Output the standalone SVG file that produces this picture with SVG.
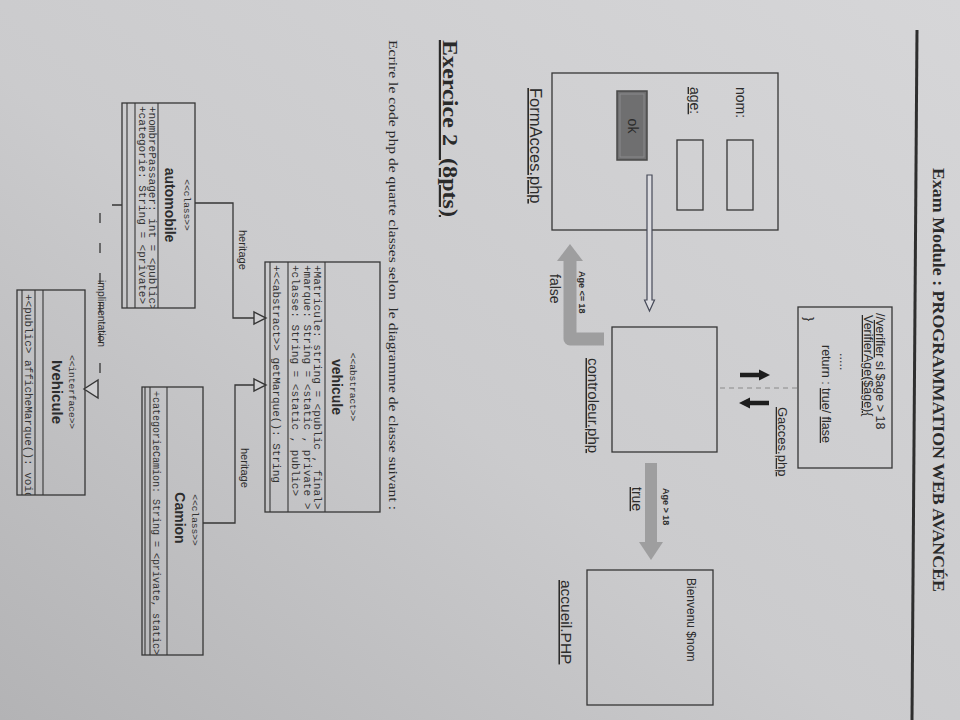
<svg xmlns="http://www.w3.org/2000/svg" width="960" height="720" viewBox="0 0 960 720">
<defs>
<linearGradient id="bg" x1="1" y1="0" x2="0" y2="1">
<stop offset="0" stop-color="#d6d6d8"/>
<stop offset="0.55" stop-color="#cbcbcd"/>
<stop offset="1" stop-color="#b3b3b5"/>
</linearGradient>
<clipPath id="cVeh"><rect x="262" y="580" width="250" height="115"/></clipPath>
<clipPath id="cAuto"><rect x="103" y="765" width="205" height="73"/></clipPath>
<clipPath id="cCam"><rect x="387" y="757" width="268" height="61"/></clipPath>
<clipPath id="cIv"><rect x="290" y="875" width="205" height="68"/></clipPath>
<style>
.box{fill:none;stroke:#363636;stroke-width:1.3}
.sep{stroke:#363636;stroke-width:1.1}
.sans{font-family:"Liberation Sans",Arial,sans-serif;fill:#2c2c2c}
.ser{font-family:"Liberation Serif","Times New Roman",serif;fill:#2a2a2a}
.mono{font-family:"Liberation Mono","Courier New",monospace;fill:#333}
.ul{text-decoration:underline}
.conn{fill:none;stroke:#363636;stroke-width:1.3}
.tri{fill:#cfcfd1;stroke:#363636;stroke-width:1.4}
.gray{fill:none;stroke:#9e9e9f}
.grayh{fill:#9e9e9f}
</style>
</defs>
<rect x="0" y="0" width="960" height="720" fill="url(#bg)"/>
<g transform="translate(960,0) rotate(90)">
  <g id="header">
    <text class="ser" x="168" y="27" font-size="17" font-weight="bold" textLength="424" lengthAdjust="spacingAndGlyphs">Exam Module : PROGRAMMATION WEB AVANCÉE</text>
    <line x1="30" y1="43" x2="720" y2="48" stroke="#2e2e2e" stroke-width="3"/>
  </g>
  <g id="exercise">
    <text class="ser ul" x="40" y="517" font-size="22" font-weight="bold" textLength="177" lengthAdjust="spacingAndGlyphs" xml:space="preserve">Exercice 2  (8pts)</text>
    <text class="ser" x="40" y="571" font-size="13.5" textLength="470" lengthAdjust="spacingAndGlyphs" xml:space="preserve">Ecrire le code php de quarte classes selon  le diagramme de classe suivant :</text>
  </g>
  <g id="node-gacces">
    <rect class="box" x="307" y="68" width="161" height="94"/>
    <text class="sans" x="313" y="84" font-size="12.5">//<tspan class="ul">verifier</tspan> si $age &gt; 18</text>
    <text class="sans ul" x="315" y="96" font-size="12.5">VerifierAge($age){</text>
    <text class="sans" x="353" y="120" font-size="12.5">.....</text>
    <text class="sans" x="345" y="138" font-size="12.5">return : <tspan class="ul">true</tspan>/ <tspan class="ul">flase</tspan></text>
    <text class="sans" x="317" y="155" font-size="12.5">}</text>
    <text class="sans ul" x="407" y="182" font-size="13">Gacces.php</text>
  </g>
  <g id="node-form">
    <rect class="box" x="73" y="182" width="157" height="226"/>
    <text class="sans" x="87" y="224" font-size="14">nom:</text>
    <text class="sans ul" x="87" y="270" font-size="14">age:</text>
    <rect class="box" x="140" y="207" width="70" height="26"/>
    <rect class="box" x="140" y="257" width="70" height="26"/>
    <rect x="91" y="313" width="69" height="30" fill="#6f6f70" stroke="#484848" stroke-width="1.5"/>
    <rect x="94" y="316" width="63" height="24" fill="none" stroke="#8a8a8b" stroke-width="1"/>
    <text class="sans" x="126" y="332" font-size="14" text-anchor="middle" fill="#2a2a2a">ok</text>
    <text class="sans ul" x="88" y="430" font-size="16.5">FormAcces.php</text>
  </g>
  <g id="node-controleur">
    <rect class="box" x="327" y="243" width="125" height="105"/>
    <text class="sans ul" x="358" y="372" font-size="15">controleur.php</text>
  </g>
  <g id="node-accueil">
    <rect class="box" x="570" y="247" width="135" height="126"/>
    <text class="sans" x="578" y="273" font-size="12">Bienvenu $nom</text>
    <text class="sans ul" x="580" y="399" font-size="15.5">accueil.PHP</text>
  </g>
  <g id="class-vehicule">
    <rect class="box" x="262" y="580" width="250" height="115"/>
    <line class="sep" x1="262" y1="635" x2="512" y2="635"/>
    <line class="sep" x1="262" y1="672" x2="512" y2="672"/>
    <line class="sep" x1="262" y1="690" x2="512" y2="690"/>
    <text class="mono" x="387" y="610" font-size="9.5" text-anchor="middle">&lt;&lt;abstract&gt;&gt;</text>
    <text class="sans" x="387" y="628" font-size="14" font-weight="bold" text-anchor="middle">vehicule</text>
    <g clip-path="url(#cVeh)">
      <text class="mono" x="265" y="646" font-size="11">+Matricule: string = &lt;public , final&gt;</text>
      <text class="mono" x="265" y="656" font-size="11">+marque: String = &lt;static , private &gt;</text>
      <text class="mono" x="265" y="668" font-size="11">+classe: String = &lt;static , public&gt;</text>
      <text class="mono" x="265" y="687" font-size="11">+&lt;&lt;abstract&gt;&gt; getMarque(): String</text>
    </g>
  </g>
  <g id="class-automobile">
    <rect class="box" x="103" y="765" width="205" height="73"/>
    <line class="sep" x1="103" y1="802" x2="308" y2="802"/>
    <line class="sep" x1="103" y1="825" x2="308" y2="825"/>
    <line class="sep" x1="103" y1="833" x2="308" y2="833"/>
    <text class="mono" x="205" y="776" font-size="9.5" text-anchor="middle">&lt;&lt;class&gt;&gt;</text>
    <text class="sans" x="205" y="795" font-size="14" font-weight="bold" text-anchor="middle">automobile</text>
    <g clip-path="url(#cAuto)">
      <text class="mono" x="106" y="811" font-size="11">+nombrePassager: int = &lt;public&gt;</text>
      <text class="mono" x="106" y="821" font-size="11">+categorie: String = &lt;private&gt;</text>
    </g>
  </g>
  <g id="class-camion">
    <rect class="box" x="387" y="757" width="268" height="61"/>
    <line class="sep" x1="387" y1="793" x2="655" y2="793"/>
    <line class="sep" x1="387" y1="810" x2="655" y2="810"/>
    <line class="sep" x1="387" y1="815" x2="655" y2="815"/>
    <text class="mono" x="520" y="768" font-size="9.5" text-anchor="middle">&lt;&lt;class&gt;&gt;</text>
    <text class="sans" x="518" y="785" font-size="14" font-weight="bold" text-anchor="middle">Camion</text>
    <g clip-path="url(#cCam)">
      <text class="mono" x="391" y="807" font-size="10">+categorieCamion: String = &lt;private, static&gt;</text>
    </g>
  </g>
  <g id="class-ivehicule">
    <rect class="box" x="290" y="875" width="205" height="68"/>
    <line class="sep" x1="290" y1="917" x2="495" y2="917"/>
    <line class="sep" x1="290" y1="925" x2="495" y2="925"/>
    <line class="sep" x1="290" y1="938" x2="495" y2="938"/>
    <text class="mono" x="392" y="891" font-size="9.5" text-anchor="middle">&lt;&lt;interface&gt;&gt;</text>
    <text class="sans" x="392" y="908" font-size="15" font-weight="bold" text-anchor="middle">Ivehicule</text>
    <g clip-path="url(#cIv)">
      <text class="mono" x="294" y="935" font-size="11">+&lt;public&gt; afficheMarque(): void</text>
    </g>
  </g>
  <g id="connectors">
    <path d="M175,308 L300,308 L300,305.5 L311,310.5 L300,315.5 L300,313 L175,313 Z" fill="#dcdce0" stroke="#464a58" stroke-width="1.2"/>
    <polyline class="gray" points="339,356 339,390 261,390" stroke-width="13" stroke-linejoin="round"/>
    <polygon class="grayh" points="261,377 261,403 244,390"/>
    <text class="sans" x="271" y="381" font-size="9" font-weight="bold">Age &lt;= 18</text>
    <text class="sans" x="274" y="410" font-size="14">false</text>
    <line class="gray" x1="463" y1="309" x2="543" y2="309" stroke-width="12"/>
    <polygon class="grayh" points="542,297 542,321 560,309"/>
    <text class="sans" x="488" y="297" font-size="9" font-weight="bold">Age &gt; 18</text>
    <text class="sans ul" x="487" y="328" font-size="14">true</text>
    <line x1="375" y1="220" x2="375" y2="199" stroke="#1e1e1e" stroke-width="4.5"/>
    <polygon points="375,190 369.5,201 380.5,201" fill="#1e1e1e"/>
    <line x1="403" y1="191" x2="403" y2="212" stroke="#1e1e1e" stroke-width="4.5"/>
    <polygon points="403,221 397.5,210 408.5,210" fill="#1e1e1e"/>
    <line x1="388" y1="163" x2="388" y2="243" stroke="#8a8a8a" stroke-width="1" stroke-dasharray="5 4"/>
    <path class="conn" d="M203,765 L203,727 L318,727 L318,706"/>
    <polygon class="tri" points="312,706 324,706 318,694"/>
    <text class="sans" x="230" y="721" font-size="11">heritage</text>
    <path class="conn" d="M523,757 L523,725 L385,725 L385,706"/>
    <polygon class="tri" points="379,706 391,706 385,694"/>
    <text class="sans" x="448" y="719" font-size="11">heritage</text>
    <path class="conn" d="M205,838 L205,860 L389,860 L389,862" stroke-dasharray="10 20"/>
    <polygon class="tri" points="380,862 398,862 389,876"/>
    <text class="sans" x="280" y="862" font-size="10.4">implimentation</text>
  </g>
</g>
</svg>
